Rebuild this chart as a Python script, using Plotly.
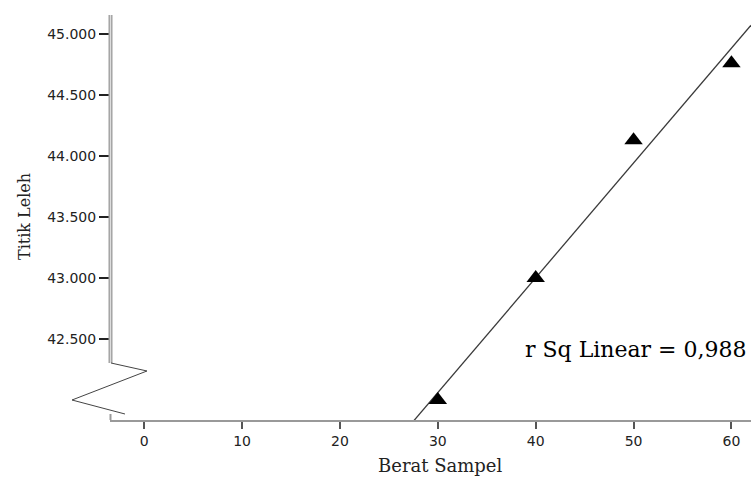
import numpy as np
import plotly.graph_objects as go

# Sample weight vs. melting point
berat_sampel = [30, 40, 50, 60]
titik_leleh = [42.00, 43.00, 44.13, 44.76]
y_ticks = [42.5, 43.0, 43.5, 44.0, 44.5, 45.0]
x_ticks = [0, 10, 20, 30, 40, 50, 60]

W, H = 751, 478
L, R, T, B = 110, 0, 15, 58
PW, PH = W - L - R, H - T - B

x_range = [-3.5, 62.0]
y_range = [41.836, 45.156]

# Least-squares fit and r squared
x = np.array(berat_sampel, dtype=float)
y = np.array(titik_leleh, dtype=float)
slope, intercept = np.polyfit(x, y, 1)
pred = slope * x + intercept
r2 = 1 - np.sum((y - pred) ** 2) / np.sum((y - y.mean()) ** 2)
fit_x = np.array(x_range)
fit_y = slope * fit_x + intercept


def px(xp):
    return (xp - L) / PW


def py(yp):
    return (T + PH - yp) / PH


fig = go.Figure()
fig.add_trace(go.Scatter(
    x=fit_x, y=fit_y, mode="lines",
    line=dict(color="#3a3a3a", width=1.3),
    hoverinfo="skip", showlegend=False,
))
fig.add_trace(go.Scatter(
    x=berat_sampel, y=titik_leleh, mode="markers",
    marker=dict(symbol="triangle-up", size=16, color="black"),
    showlegend=False,
))

shapes = []
# broken vertical axis: double-ruled upper segment, zigzag, short stub
shapes.append(dict(type="line", xref="paper", yref="paper",
                   x0=px(110.5), x1=px(110.5), y0=py(363), y1=py(15),
                   line=dict(color="#a0a0a0", width=4), layer="above"))
shapes.append(dict(type="line", xref="paper", yref="paper",
                   x0=px(110.5), x1=px(110.5), y0=py(363), y1=py(15),
                   line=dict(color="#dddddd", width=1.2), layer="above"))
zig = [(111, 363), (147, 371), (72, 400), (125, 414)]
path = "M " + " L ".join(f"{px(a):.5f},{py(b):.5f}" for a, b in zig)
shapes.append(dict(type="path", xref="paper", yref="paper", path=path,
                   line=dict(color="#444444", width=1), layer="above"))
shapes.append(dict(type="line", xref="paper", yref="paper",
                   x0=px(110.5), x1=px(110.5), y0=py(414), y1=py(420),
                   line=dict(color="#9a9a9a", width=2), layer="above"))

annotations = [
    dict(text=f"r Sq Linear = {r2:.3f}".replace(".", ","),
         xref="paper", yref="paper", x=px(523), y=py(349),
         xanchor="left", yanchor="middle", showarrow=False,
         font=dict(family="DejaVu Serif", size=22, color="black")),
    dict(text="Berat Sampel", xref="paper", yref="paper",
         x=px(440), y=py(465), xanchor="center", yanchor="middle",
         showarrow=False,
         font=dict(family="DejaVu Serif", size=18, color="#222222")),
    dict(text="Titik Leleh", xref="paper", yref="paper",
         x=px(24), y=py(217), xanchor="center", yanchor="middle",
         textangle=-90, showarrow=False,
         font=dict(family="DejaVu Serif", size=16, color="#222222")),
]

fig.update_layout(
    width=W, height=H,
    margin=dict(l=L, r=R, t=T, b=B, pad=0),
    paper_bgcolor="white", plot_bgcolor="white",
    shapes=shapes, annotations=annotations,
    xaxis=dict(
        range=x_range, tickvals=x_ticks, ticktext=[str(v) for v in x_ticks],
        showgrid=False, zeroline=False,
        showline=True, linecolor="#999999", linewidth=2,
        ticks="outside", ticklen=7, tickwidth=2, tickcolor="#555555",
        tickfont=dict(family="DejaVu Sans", size=14, color="#222222"),
    ),
    yaxis=dict(
        range=y_range, tickvals=y_ticks,
        ticktext=[f"{v:.3f}" for v in y_ticks],
        showgrid=False, zeroline=False, showline=False,
        ticks="outside", ticklen=10, tickwidth=1.5, tickcolor="#222222",
        tickfont=dict(family="DejaVu Sans", size=14, color="#222222"),
    ),
)

fig.write_html("out.html")
